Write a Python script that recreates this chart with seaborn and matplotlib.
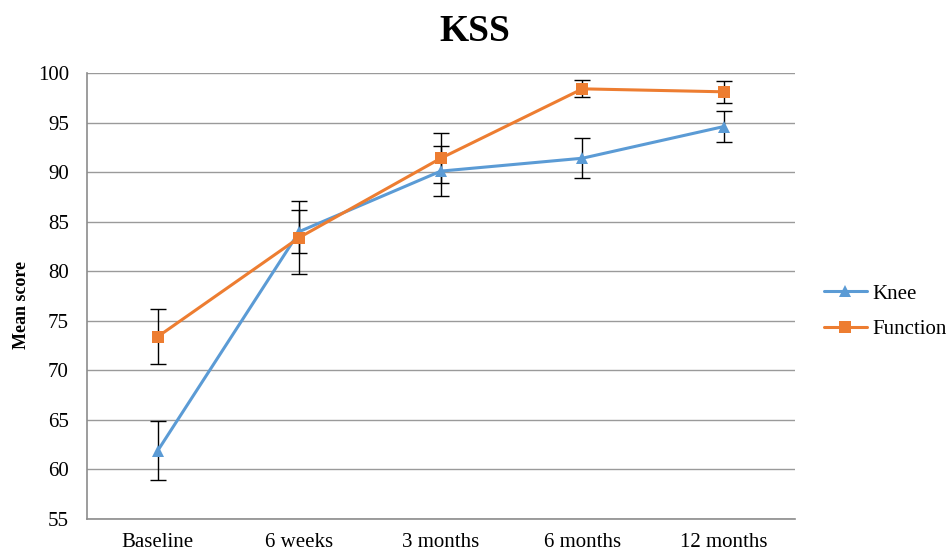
import matplotlib
matplotlib.use("Agg")
import matplotlib.pyplot as plt
import numpy as np
import pandas as pd
import seaborn as sns

timepoints = ["Baseline", "6 weeks", "3 months", "6 months", "12 months"]
knee_mean = [61.9, 84.0, 90.1, 91.4, 94.6]
knee_err = [3.0, 2.2, 2.5, 2.0, 1.6]
function_mean = [73.4, 83.4, 91.4, 98.4, 98.1]
function_err = [2.8, 3.7, 2.5, 0.85, 1.1]

sns.set_style("white")
plt.rcParams["font.family"] = ["Liberation Serif", "DejaVu Serif"]
plt.rcParams["text.color"] = "black"
plt.rcParams["axes.labelcolor"] = "black"
plt.rcParams["xtick.color"] = "black"
plt.rcParams["ytick.color"] = "black"

df = pd.DataFrame({
    "time": timepoints * 2,
    "score": knee_mean + function_mean,
    "err": knee_err + function_err,
    "series": ["Knee"] * 5 + ["Function"] * 5,
})

fig = plt.figure(figsize=(9.5, 5.55), dpi=100)
ax = fig.add_axes([0.0916, 0.0649, 0.745, 0.8036])

x = np.arange(len(timepoints))
# error bars first so the lines sit on top
for name in ["Knee", "Function"]:
    sub = df[df["series"] == name]
    ax.errorbar(x, sub["score"], yerr=sub["err"], fmt="none", ecolor="black",
                elinewidth=1.0, capsize=6, capthick=1.0, zorder=2)

palette = {"Knee": "#5b9bd5", "Function": "#ed7d31"}
sns.lineplot(data=df, x="time", y="score", hue="series", style="series",
             markers={"Knee": "^", "Function": "s"}, dashes=False,
             palette=palette, linewidth=2.2, markersize=8, markeredgewidth=0,
             sort=False, ax=ax, zorder=3)

ax.set_ylim(55, 100)
ax.set_yticks(range(55, 101, 5))
ax.set_xlim(-0.5, 4.5)
ax.set_xticks(x)
ax.set_xticklabels(timepoints)
ax.tick_params(axis="both", length=0, labelsize=15)
ax.tick_params(axis="y", pad=13)
ax.tick_params(axis="x", pad=10)
ax.grid(axis="y", color="#9a9a9a", linewidth=1.0)
ax.set_axisbelow(True)
for s in ["top", "right"]:
    ax.spines[s].set_visible(False)
for s in ["left", "bottom"]:
    ax.spines[s].set_color("#8c8c8c")
    ax.spines[s].set_linewidth(1.2)

ax.set_xlabel("")
ax.set_ylabel("Mean score", fontsize=13, fontweight="bold")
ax.yaxis.set_label_coords(-0.08, 0.48)
fig.suptitle("KSS", x=0.5, y=0.975, fontsize=27, fontweight="bold")

ax.legend(loc="center left", bbox_to_anchor=(1.015, 0.465), frameon=False,
          fontsize=15, handlelength=2.05, labelspacing=0.75, handletextpad=0.25)

fig.savefig("out.png", dpi=100)
